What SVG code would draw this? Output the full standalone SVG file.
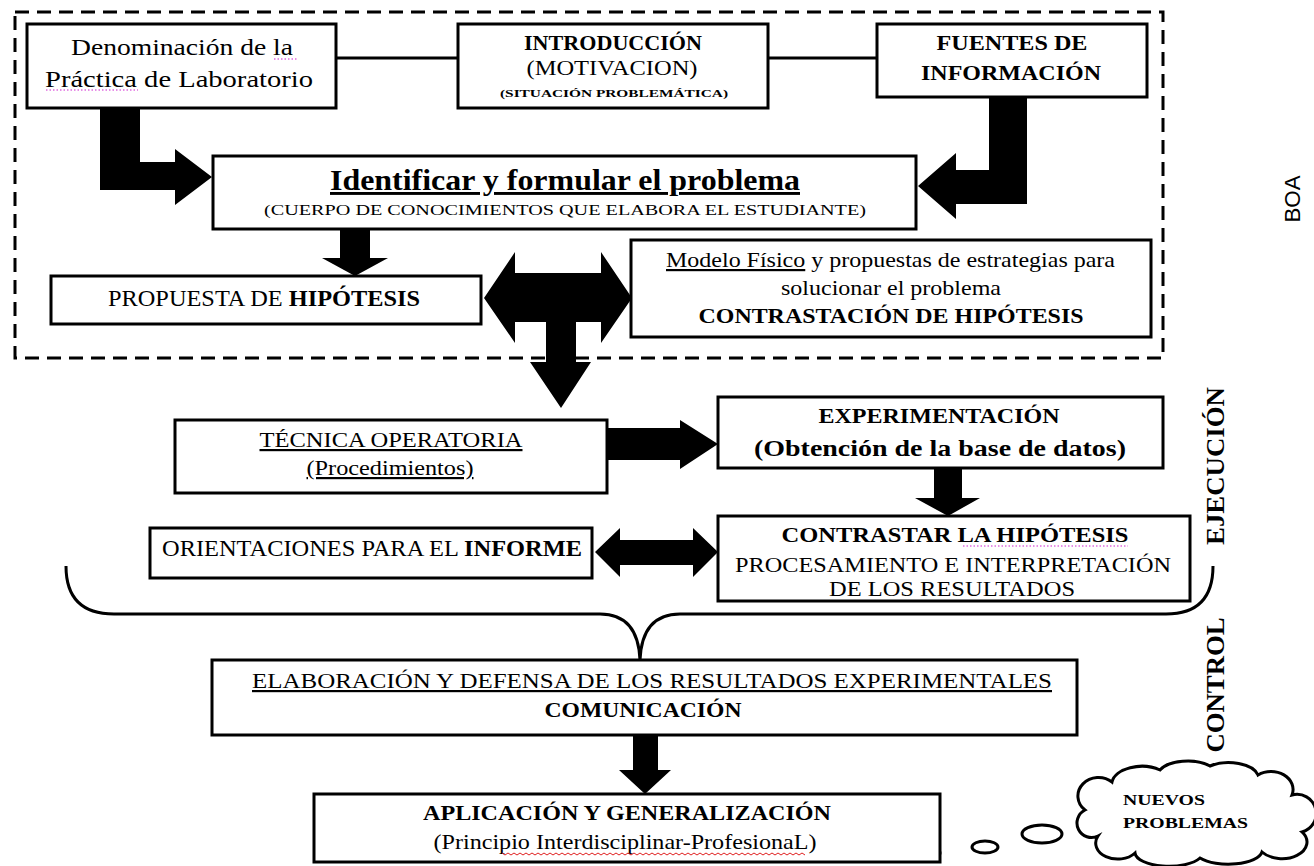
<svg xmlns="http://www.w3.org/2000/svg" width="1314" height="866" viewBox="0 0 1314 866">
<style>
  .box{fill:#fff;stroke:#000;stroke-width:3}
  .t{font-family:"Liberation Serif","Times New Roman",serif;fill:#000}
  .b{font-weight:bold}
  .u{text-decoration:underline}
  .arr{fill:#000;stroke:none}
  .ln{stroke:#000;stroke-width:3;fill:none}
  .spell{stroke:#d020d0;stroke-width:1.2;stroke-dasharray:1.5 2;fill:none}
  .wavy{stroke:#e02020;stroke-width:1;fill:none}
  .side{font-family:"Liberation Serif","Times New Roman",serif;font-weight:bold;fill:#000}
</style>
<rect width="1314" height="866" fill="#fff"/>

<!-- BOA dashed frame -->
<g id="boa-frame">
  <rect x="15" y="12" width="1148" height="346" fill="none" stroke="#000" stroke-width="3" stroke-dasharray="14 8"/>
</g>

<!-- connectors -->
<g id="connectors">
  <line class="ln" x1="336" y1="58" x2="458" y2="58"/>
  <line class="ln" x1="768" y1="58" x2="877" y2="58"/>
  <polygon class="arr" points="100,108 140,108 140,162 175,162 175,149 212,177 175,205 175,190 100,190"/>
  <polygon class="arr" points="989,97 1027,97 1027,204 956,204 956,219 918,186 956,153 956,170 989,170"/>
  <polygon class="arr" points="340,229 370,229 370,258 388,258 355,276 322,258 340,258"/>
  <polygon class="arr" points="484,298 515,252 515,273 601,273 601,252 632,298 601,343 601,322 576,322 576,362 591,362 561,408 530,362 546,362 546,322 515,322 515,343"/>
  <polygon class="arr" points="607,428 680,428 680,420 718,444 680,469 680,460 607,460"/>
  <polygon class="arr" points="934,468 962,468 962,498 980,498 948,516 915,498 934,498"/>
  <polygon class="arr" points="595,552 620,528 620,540 693,540 693,528 718,552 693,577 693,565 620,565 620,577"/>
  <path class="ln" stroke-width="4" d="M66,566 Q66,614 114,614 L600,614 Q638,614 640,660 Q642,614 680,614 L1166,614 Q1213,614 1213,566"/>
  <polygon class="arr" points="633,735 658,735 658,770 671,770 645,794 619,770 633,770"/>
  <circle cx="937" cy="853" r="4.5" fill="#000"/>
  <ellipse cx="985" cy="847" rx="13" ry="6" fill="#fff" stroke="#000" stroke-width="3"/>
  <ellipse cx="1042" cy="834" rx="20" ry="9" fill="#fff" stroke="#000" stroke-width="3"/>
</g>

<g id="n-denominacion">
  <rect class="box" x="27" y="24" width="309" height="84"/>
  <text class="t" x="182" y="55" font-size="24" text-anchor="middle" textLength="222" lengthAdjust="spacingAndGlyphs">Denominación de la</text>
  <text class="t" x="179" y="87" font-size="24" text-anchor="middle" textLength="268" lengthAdjust="spacingAndGlyphs">Práctica de  Laboratorio</text>
  <line class="spell" x1="274" y1="59" x2="298" y2="59"/>
  <line class="spell" x1="46" y1="90" x2="138" y2="90"/>
</g>

<g id="n-introduccion">
  <rect class="box" x="458" y="24" width="310" height="84"/>
  <text class="t b" x="613" y="50" font-size="22" text-anchor="middle" textLength="178" lengthAdjust="spacingAndGlyphs">INTRODUCCIÓN</text>
  <text class="t" x="612" y="75" font-size="21" text-anchor="middle" textLength="171" lengthAdjust="spacingAndGlyphs">(MOTIVACION)</text>
  <text class="t b" x="614" y="97" font-size="10" text-anchor="middle" textLength="228" lengthAdjust="spacingAndGlyphs">(SITUACIÓN PROBLEMÁTICA)</text>
</g>

<g id="n-fuentes">
  <rect class="box" x="877" y="24" width="270" height="73"/>
  <text class="t b" x="1012" y="50" font-size="22" text-anchor="middle" textLength="151" lengthAdjust="spacingAndGlyphs">FUENTES DE</text>
  <text class="t b" x="1011" y="80" font-size="22" text-anchor="middle" textLength="180" lengthAdjust="spacingAndGlyphs">INFORMACIÓN</text>
</g>

<g id="n-identificar">
  <rect class="box" x="213" y="156" width="703" height="73"/>
  <text class="t b u" x="565" y="190" font-size="29" text-anchor="middle" textLength="470" lengthAdjust="spacingAndGlyphs">Identificar y formular el problema</text>
  <text class="t" x="565" y="215" font-size="15" text-anchor="middle" textLength="602" lengthAdjust="spacingAndGlyphs">(CUERPO DE CONOCIMIENTOS QUE ELABORA EL ESTUDIANTE)</text>
</g>

<g id="n-propuesta">
  <rect class="box" x="51" y="276" width="430" height="48"/>
  <text class="t" x="108" y="306" font-size="23" textLength="312" lengthAdjust="spacingAndGlyphs">PROPUESTA DE <tspan class="b">HIPÓTESIS</tspan></text>
</g>

<g id="n-modelo">
  <rect class="box" x="631" y="240" width="520" height="97"/>
  <text class="t" x="666" y="267" font-size="22" textLength="449" lengthAdjust="spacingAndGlyphs"><tspan class="u">Modelo Físico</tspan> y propuestas de estrategias para</text>
  <text class="t" x="891" y="295" font-size="22" text-anchor="middle" textLength="220" lengthAdjust="spacingAndGlyphs">solucionar el problema</text>
  <text class="t b" x="891" y="323" font-size="22" text-anchor="middle" textLength="385" lengthAdjust="spacingAndGlyphs">CONTRASTACIÓN DE HIPÓTESIS</text>
</g>

<g id="n-tecnica">
  <rect class="box" x="175" y="420" width="432" height="73"/>
  <text class="t u" x="391" y="447" font-size="22" text-anchor="middle" textLength="263" lengthAdjust="spacingAndGlyphs">TÉCNICA OPERATORIA</text>
  <text class="t u" x="390" y="475" font-size="22" text-anchor="middle" textLength="167" lengthAdjust="spacingAndGlyphs">(Procedimientos)</text>
</g>

<g id="n-experimentacion">
  <rect class="box" x="718" y="397" width="445" height="71"/>
  <text class="t b" x="939" y="423" font-size="22" text-anchor="middle" textLength="241" lengthAdjust="spacingAndGlyphs">EXPERIMENTACIÓN</text>
  <text class="t b" x="940" y="456" font-size="24" text-anchor="middle" textLength="372" lengthAdjust="spacingAndGlyphs">(Obtención de la base de datos)</text>
</g>

<g id="n-orientaciones">
  <rect class="box" x="150" y="528" width="442" height="50"/>
  <text class="t" x="162" y="556" font-size="23.5" textLength="420" lengthAdjust="spacingAndGlyphs">ORIENTACIONES PARA EL <tspan class="b">INFORME</tspan></text>
</g>

<g id="n-contrastar">
  <rect class="box" x="718" y="516" width="472" height="85"/>
  <text class="t b" x="955" y="542" font-size="22" text-anchor="middle" textLength="347" lengthAdjust="spacingAndGlyphs">CONTRASTAR  LA HIPÓTESIS</text>
  <line class="spell" x1="963" y1="546" x2="1128" y2="546"/>
  <text class="t" x="953" y="572" font-size="22" text-anchor="middle" textLength="436" lengthAdjust="spacingAndGlyphs">PROCESAMIENTO E INTERPRETACIÓN</text>
  <text class="t" x="952" y="596" font-size="22" text-anchor="middle" textLength="246" lengthAdjust="spacingAndGlyphs">DE LOS RESULTADOS</text>
</g>

<g id="n-elaboracion">
  <rect class="box" x="212" y="660" width="865" height="75"/>
  <text class="t u" x="652" y="688" font-size="22" text-anchor="middle" textLength="800" lengthAdjust="spacingAndGlyphs">ELABORACIÓN Y DEFENSA DE LOS RESULTADOS EXPERIMENTALES</text>
  <text class="t b" x="643" y="717" font-size="22" text-anchor="middle" textLength="197" lengthAdjust="spacingAndGlyphs">COMUNICACIÓN</text>
</g>

<g id="n-aplicacion">
  <rect class="box" x="314" y="794" width="626" height="68"/>
  <text class="t b" x="627" y="820" font-size="22" text-anchor="middle" textLength="408" lengthAdjust="spacingAndGlyphs">APLICACIÓN Y GENERALIZACIÓN</text>
  <text class="t" x="625" y="849" font-size="21" text-anchor="middle" textLength="383" lengthAdjust="spacingAndGlyphs">(Principio Interdisciplinar-ProfesionaL)</text>
  <path class="wavy" d="M502,853 l3,2 l3,-2 l3,2 l3,-2 l3,2 l3,-2 l3,2 l3,-2 l3,2 l3,-2 l3,2 l3,-2 l3,2 l3,-2 l3,2 l3,-2 l3,2 l3,-2 l3,2 l3,-2 l3,2 l3,-2 l3,2 l3,-2 l3,2 l3,-2 l3,2 l3,-2 l3,2 l3,-2 l3,2 l3,-2 l3,2 l3,-2 l3,2 l3,-2 l3,2 l3,-2 l3,2 l3,-2 l3,2 l3,-2 l3,2 l3,-2 l3,2 l3,-2 l3,2 l3,-2 l3,2 l3,-2 l3,2 l3,-2 l3,2 l3,-2 l3,2 l3,-2 l3,2 l3,-2 l3,2 l3,-2 l3,2 l3,-2 l3,2 l3,-2 l3,2 l3,-2 l3,2 l3,-2 l3,2 l3,-2 l3,2 l3,-2 l3,2 l3,-2 l3,2 l3,-2 l3,2 l3,-2 l3,2 l3,-2 l3,2 l3,-2 l3,2 l3,-2 l3,2 l3,-2 l3,2 l3,-2 l3,2 l3,-2 l3,2 l3,-2 l3,2 l3,-2 l3,2 l3,-2 l3,2 l3,-2 l3,2 l3,-2 l3,2"/>
</g>

<g id="n-nuevos-problemas">
  <path fill="#fff" stroke="#000" stroke-width="3" d="M1085,810 A20,18 0 0 1 1112,782 A30,18 0 0 1 1160,770 A30,15 0 0 1 1210,766 A30,16 0 0 1 1258,775 A22,18 0 0 1 1292,795 A18,18 0 0 1 1302,832 A24,16 0 0 1 1262,852 A34,14 0 0 1 1200,858 A34,14 0 0 1 1135,853 A22,16 0 0 1 1098,836 A14,14 0 0 1 1085,810 Z"/>
  <text class="t b" x="1123" y="805" font-size="15" textLength="82" lengthAdjust="spacingAndGlyphs">NUEVOS</text>
  <text class="t b" x="1123" y="828" font-size="15" textLength="125" lengthAdjust="spacingAndGlyphs">PROBLEMAS</text>
</g>

<g id="labels">
  <text font-family="'Liberation Sans',Arial,sans-serif" font-size="22" transform="translate(1300,199) rotate(-90)" text-anchor="middle" textLength="47" lengthAdjust="spacingAndGlyphs">BOA</text>
  <text class="side" font-size="25" transform="translate(1224,466) rotate(-90)" text-anchor="middle" textLength="158" lengthAdjust="spacingAndGlyphs">EJECUCIÓN</text>
  <text class="side" font-size="25" transform="translate(1224,685) rotate(-90)" text-anchor="middle" textLength="135" lengthAdjust="spacingAndGlyphs">CONTROL</text>
</g>
</svg>
